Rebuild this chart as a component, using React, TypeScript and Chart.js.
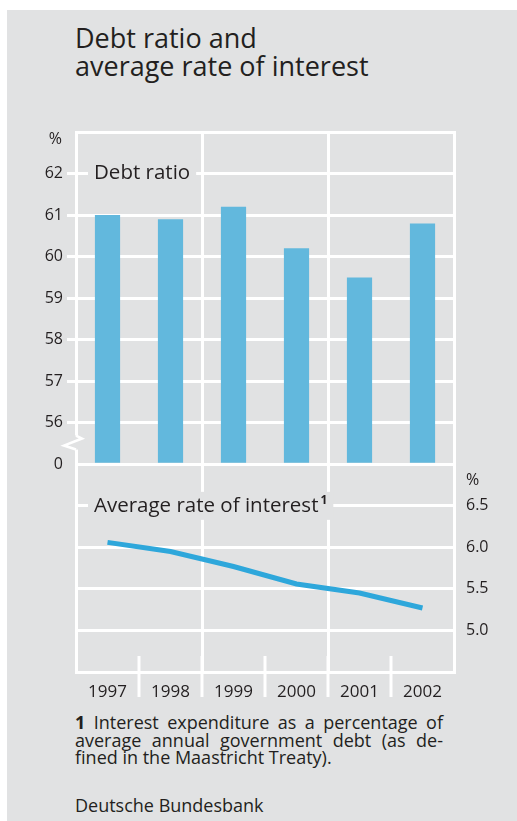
import React, { useEffect, useRef } from "react";
import { Chart, registerables } from "chart.js";

Chart.register(...registerables);

// ---- data ----
const years = ["1997", "1998", "1999", "2000", "2001", "2002"];
const debtRatio = [61.0, 60.9, 61.2, 60.2, 59.5, 60.8];
const interestRate = [6.06, 5.95, 5.77, 5.56, 5.45, 5.27];
const debtTickValues = [56, 57, 58, 59, 60, 61, 62];
const debtBreakValue = 55; // shown as "0" below the axis break
const rateTickValues = [5.0, 5.5, 6.0, 6.5];

// ---- style ----
const BG = "#e1e2e3";
const WHITE = "#ffffff";
const BAR = "#62b8dd";
const LINE = "#2ea7db";
const TEXT = "#231f20";
const FONT = "'Open Sans', 'Noto Sans', sans-serif";

const near = (a: number, b: number) => Math.abs(a - b) < 1e-6;

const decorPlugin = {
  id: "decor",
  afterDraw(chart: any) {
    const { ctx, chartArea, scales } = chart;
    const x = scales.x;
    const y = scales.y;
    const y2 = scales.y2;
    ctx.save();

    // axis break on the left axis between 56 and the "0" baseline
    const yb = y.getPixelForValue(55.5);
    const L = chartArea.left;
    ctx.fillStyle = BG;
    ctx.fillRect(L - 3, yb - 8, 6, 14);
    ctx.strokeStyle = WHITE;
    ctx.lineWidth = 2.5;
    ctx.lineJoin = "miter";
    ctx.beginPath();
    ctx.moveTo(L, yb - 8);
    ctx.lineTo(L + 6, yb - 5);
    ctx.lineTo(L - 12, yb + 2);
    ctx.lineTo(L, yb + 6);
    ctx.stroke();

    // category boundary ticks crossing the bottom axis
    const half = (x.getPixelForValue(1) - x.getPixelForValue(0)) / 2;
    ctx.lineWidth = 3;
    ctx.strokeStyle = WHITE;
    for (let i = 1; i < years.length; i++) {
      const px = x.getPixelForValue(i) - half;
      ctx.beginPath();
      ctx.moveTo(px, chartArea.bottom - 16);
      ctx.lineTo(px, chartArea.bottom + 25);
      ctx.stroke();
    }

    // unit labels
    ctx.fillStyle = TEXT;
    ctx.font = `16px ${FONT}`;
    ctx.textBaseline = "middle";
    ctx.textAlign = "right";
    ctx.fillText("%", L - 14, y.getPixelForValue(63) + 7);
    ctx.textAlign = "left";
    ctx.fillText("%", chartArea.right + 12, y2.getPixelForValue(7.0) + 16);

    // panel labels with background patches
    const drawLabel = (text: string, sup: string, lx: number, ly: number) => {
      ctx.font = `20.5px ${FONT}`;
      const w = ctx.measureText(text).width;
      ctx.font = `bold 12px ${FONT}`;
      const sw = sup ? ctx.measureText(sup).width + 2 : 0;
      ctx.fillStyle = BG;
      ctx.fillRect(lx - 6, ly - 14, w + sw + 12, 28);
      ctx.fillStyle = TEXT;
      ctx.textAlign = "left";
      ctx.textBaseline = "middle";
      ctx.font = `20.5px ${FONT}`;
      ctx.fillText(text, lx, ly);
      if (sup) {
        ctx.font = `bold 12px ${FONT}`;
        ctx.fillText(sup, lx + w + 2, ly - 5);
      }
    };
    drawLabel("Debt ratio", "", L + 18, y.getPixelForValue(62));
    drawLabel("Average rate of interest", "1", L + 18, y2.getPixelForValue(6.5));

    ctx.restore();
  },
};

function ChartCanvas() {
  const ref = useRef<HTMLCanvasElement | null>(null);
  useEffect(() => {
    if (!ref.current) return;
    const chart = new Chart(ref.current, {
      type: "bar",
      data: {
        labels: years,
        datasets: [
          {
            type: "bar",
            label: "Debt ratio",
            data: debtRatio,
            yAxisID: "y",
            base: debtBreakValue,
            backgroundColor: BAR,
            borderWidth: 0,
            barPercentage: 0.4,
            categoryPercentage: 1,
            order: 2,
          } as any,
          {
            type: "line",
            label: "Average rate of interest",
            data: interestRate,
            yAxisID: "y2",
            borderColor: LINE,
            borderWidth: 5,
            pointRadius: 0,
            tension: 0,
            fill: false,
            order: 1,
          } as any,
        ],
      },
      options: {
        responsive: false,
        maintainAspectRatio: false,
        animation: false,
        layout: { padding: { top: 12, left: 0, right: 0, bottom: 0 } },
        plugins: { legend: { display: false }, tooltip: { enabled: false } },
        scales: {
          x: {
            offset: true,
            grid: {
              offset: true,
              drawTicks: false,
              lineWidth: 3,
              color: (c: any) => (c.index % 2 === 0 ? WHITE : "rgba(0,0,0,0)"),
            },
            border: { display: true, color: WHITE, width: 3 },
            ticks: { color: TEXT, font: { family: FONT, size: 17 }, padding: 10 },
            afterFit: (s: any) => {
              s.height = 38;
              s.paddingLeft = 0;
              s.paddingRight = 0;
            },
          },
          y: {
            position: "left",
            min: 50,
            max: 63,
            ticks: {
              stepSize: 1,
              autoSkip: false,
              color: TEXT,
              padding: 4,
              font: { family: FONT, size: 16 },
              callback: (v: any) => {
                const n = Number(v);
                if (near(n, debtBreakValue)) return "0";
                return debtTickValues.some((t) => near(t, n)) ? String(n) : "";
              },
            },
            grid: {
              color: WHITE,
              lineWidth: 3,
              drawTicks: true,
              tickLength: 9,
              tickWidth: 3,
              tickColor: (c: any) =>
                c.tick && debtTickValues.some((t) => near(t, c.tick.value)) ? WHITE : "rgba(0,0,0,0)",
            },
            border: { display: true, color: WHITE, width: 3 },
            afterFit: (s: any) => {
              s.width = 46;
              s.paddingTop = 0;
              s.paddingBottom = 0;
            },
          },
          y2: {
            position: "right",
            min: 4.5,
            max: 11,
            ticks: {
              stepSize: 0.5,
              autoSkip: false,
              color: TEXT,
              padding: 12,
              font: { family: FONT, size: 16 },
              callback: (v: any) => {
                const n = Number(v);
                return rateTickValues.some((t) => near(t, n)) ? n.toFixed(1) : "";
              },
            },
            grid: { drawOnChartArea: false, drawTicks: false },
            border: { display: true, color: WHITE, width: 3 },
            afterFit: (s: any) => {
              s.width = 46;
              s.paddingTop = 0;
              s.paddingBottom = 0;
            },
          },
        },
      },
      plugins: [decorPlugin],
    } as any);
    return () => chart.destroy();
  }, []);
  return (
    <canvas
      ref={ref}
      width={470}
      height={590}
      style={{ position: "absolute", left: 23, top: 110, width: 470, height: 590 }}
    />
  );
}

export default function App() {
  return (
    <div
      style={{
        position: "absolute",
        left: 7,
        top: 10,
        width: 510,
        height: 811,
        background: BG,
        fontFamily: FONT,
        color: TEXT,
        overflow: "hidden",
      }}
    >
      <div
        style={{
          position: "absolute",
          left: 68,
          top: 14,
          fontSize: 27,
          lineHeight: "28px",
        }}
      >
        Debt ratio and
        <br />
        average rate of interest
      </div>
      <ChartCanvas />
      <div
        style={{
          position: "absolute",
          left: 68,
          top: 704,
          width: 368,
          fontSize: 18,
          lineHeight: "17.5px",
        }}
      >
        <div style={{ textAlign: "justify", textAlignLast: "justify" }}>
          <b>1</b> Interest expenditure as a percentage of
        </div>
        <div style={{ textAlign: "justify", textAlignLast: "justify" }}>
          average annual government debt (as de-
        </div>
        <div>fined in the Maastricht Treaty).</div>
        <div style={{ marginTop: 30 }}>Deutsche Bundesbank</div>
      </div>
    </div>
  );
}
